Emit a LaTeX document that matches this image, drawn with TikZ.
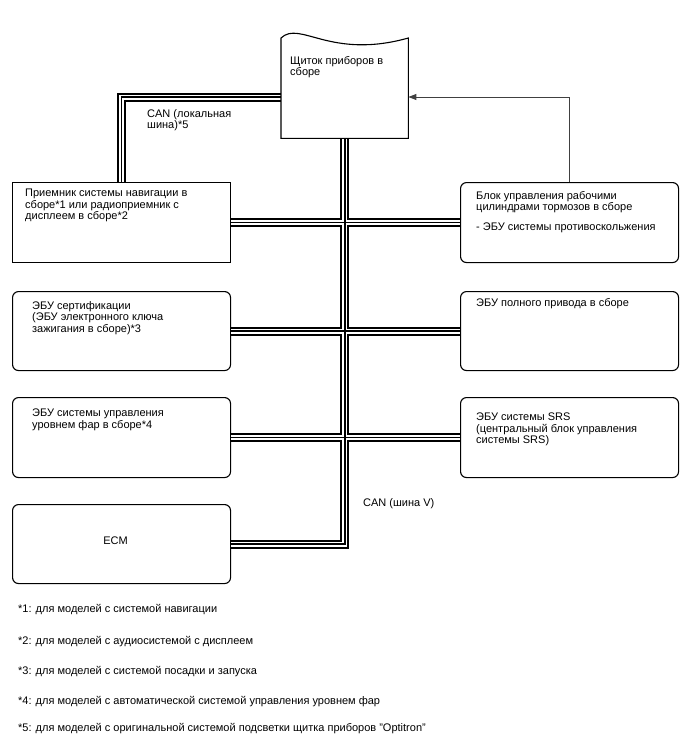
\documentclass[tikz,border=0pt]{standalone}
\usepackage{fontspec}
\setmainfont{Liberation Sans}
\usetikzlibrary{arrows.meta,calc}
\begin{document}
\begin{tikzpicture}[x=1pt,y=-1pt,
  box/.style={draw, line width=1.1pt, rectangle, inner sep=0pt, anchor=north west},
  rbox/.style={box, rounded corners=6pt},
  txt/.style={anchor=north west, inner sep=0pt, align=left, font=\fontsize{11}{11.5}\selectfont},
  busA/.style={line width=9pt, black},
  busB/.style={line width=5pt, white},
  busC/.style={line width=1.6pt, black},
  sig/.style={draw=black!75, line width=0.9pt, -{Triangle[length=8pt,width=6pt]}}]
\useasboundingbox (0,0) rectangle (688,755);
% top node
\node[inner sep=0pt, minimum width=127pt, minimum height=100pt, anchor=north west] (top) at (281,38) {};
% boxes
\node[box, minimum width=218pt, minimum height=80pt] (nav) at (12,182) {};
\node[rbox, minimum width=218pt, minimum height=80pt] (brake) at (460,182) {};
\node[rbox, minimum width=218pt, minimum height=79pt] (cert) at (12,291) {};
\node[rbox, minimum width=218pt, minimum height=79pt] (awd) at (460,291) {};
\node[rbox, minimum width=218pt, minimum height=80pt] (head) at (12,397) {};
\node[rbox, minimum width=218pt, minimum height=80pt] (srs) at (460,397) {};
\node[rbox, minimum width=218pt, minimum height=79pt] (ecm) at (12,504) {};
% buses
\foreach \s in {busA,busB,busC}{
  \draw[\s] (top.west |- 0,97) -| (nav.north);
  \draw[\s] (top.south) |- (ecm.east);
  \draw[\s] (nav.east) -- (brake.west);
  \draw[\s] (cert.east) -- (awd.west);
  \draw[\s] (head.east) -- (srs.west);
}
% top shape
\draw[line width=1.1pt, fill=white] (top.south west) -- (top.north west)
  .. controls (300,20) and (330,60) .. (top.north east) -- (top.south east) -- cycle;
% signal arrow
\draw[sig] (brake.north) |- (top.east |- 0,97);
% texts
\node[txt] (ttop) at ([shift={(9,18)}]top.north west) {Щиток приборов в\\сборе};
\node[txt] (tnav) at ([shift={(13,7)}]nav.north west) {Приемник системы навигации в\\сборе*1 или радиоприемник с\\дисплеем в сборе*2};
\node[txt] (tbrake) at ([shift={(16,9)}]brake.north west) {Блок управления рабочими\\цилиндрами тормозов в сборе\\[8pt]- ЭБУ системы противоскольжения};
\node[txt] (tcert) at ([shift={(20,10)}]cert.north west) {ЭБУ сертификации\\(ЭБУ электронного ключа\\зажигания в сборе)*3};
\node[txt] (tawd) at ([shift={(16,7)}]awd.north west) {ЭБУ полного привода в сборе};
\node[txt] (thead) at ([shift={(20,12)}]head.north west) {ЭБУ системы управления\\уровнем фар в сборе*4};
\node[txt] (tsrs) at ([shift={(16,16)}]srs.north west) {ЭБУ системы SRS\\(центральный блок управления\\системы SRS)};
\node[txt, anchor=center] (tecm) at ([shift={(-6,-3)}]ecm.center) {ECM};
\node[txt] (tcanl) at (147,109) {CAN (локальная\\шина)*5};
\node[txt] (tcanv) at (363,498) {CAN (шина V)};
% footnotes
\node[txt] (f1) at (18,604) {*1: для моделей с системой навигации};
\node[txt] (f2) at (18,636) {*2: для моделей с аудиосистемой с дисплеем};
\node[txt] (f3) at (18,666) {*3: для моделей с системой посадки и запуска};
\node[txt] (f4) at (18,696) {*4: для моделей с автоматической системой управления уровнем фар};
\node[txt] (f5) at (18,723) {*5: для моделей с оригинальной системой подсветки щитка приборов "Optitron"};
\end{tikzpicture}
\end{document}
